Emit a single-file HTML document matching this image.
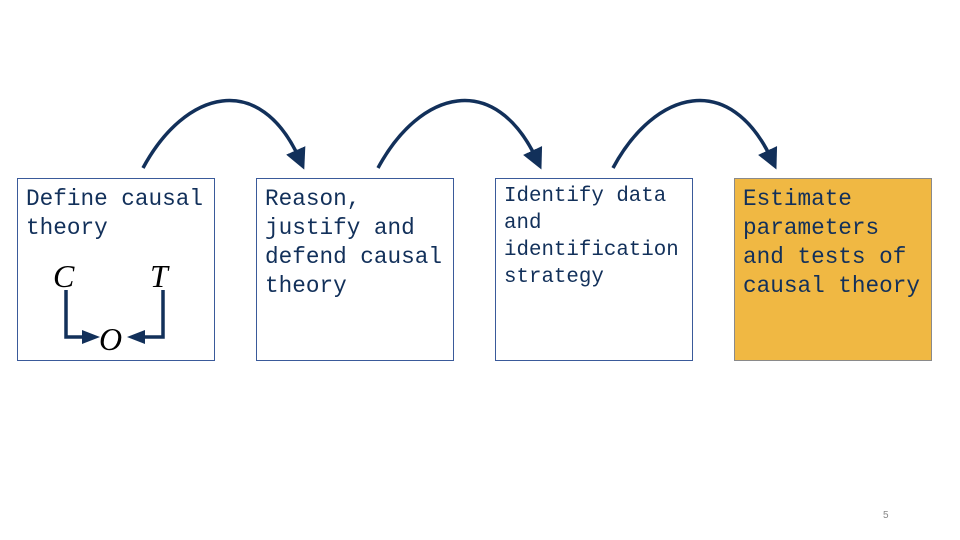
<!DOCTYPE html>
<html><head><style>
body{margin:0;width:960px;height:540px;background:#fff;position:relative;overflow:hidden;font-family:"Liberation Mono",monospace;color:#12305a}
.b{position:absolute;top:178px;width:198px;height:183px;border:1px solid #3a5a9a;box-sizing:border-box}
.t{position:absolute;left:8px;top:6px;font-size:22.7px;line-height:29px;white-space:pre}
</style></head><body>
<div class="b" style="left:17px"><div class="t">Define causal
theory</div></div>
<div class="b" style="left:256px"><div class="t">Reason,
justify and
defend causal
theory</div></div>
<div class="b" style="left:495px"><div class="t" style="font-size:20.8px;line-height:27px;top:4px">Identify data
and
identification
strategy</div></div>
<div class="b" style="left:734px;background:#f0b843;border-color:#8a8a8a"><div class="t">Estimate
parameters
and tests of
causal theory</div></div>
<svg width="960" height="540" style="position:absolute;left:0;top:0">
<defs><marker id="a" markerWidth="6" markerHeight="6" refX="3" refY="3" orient="auto" markerUnits="strokeWidth"><path d="M0,0L6,3L0,6z" fill="#12305a"/></marker></defs>
<g fill="none" stroke="#12305a" stroke-width="3.5">
<path d="M143,168 C185,90 260,70 300,160" marker-end="url(#a)"/>
<path d="M378,168 C420,90 495,70 537,160" marker-end="url(#a)"/>
<path d="M613,168 C655,90 730,70 772,160" marker-end="url(#a)"/>
<path d="M66,290 V337 H90"/>
<path d="M163,290 V337 H140"/>
</g>
<path d="M82,330 L100,337 L82,344z" fill="#12305a"/>
<path d="M145,330 L127,337 L145,344z" fill="#12305a"/>
<g font-family="Liberation Serif,serif" font-style="italic" font-size="32" fill="#000">
<text x="53" y="287">C</text><text x="150" y="287">T</text><text x="99" y="350">O</text>
</g>
<text x="883" y="518" font-family="Liberation Sans,sans-serif" font-size="10" fill="#888">5</text>
</svg>
</body></html>
